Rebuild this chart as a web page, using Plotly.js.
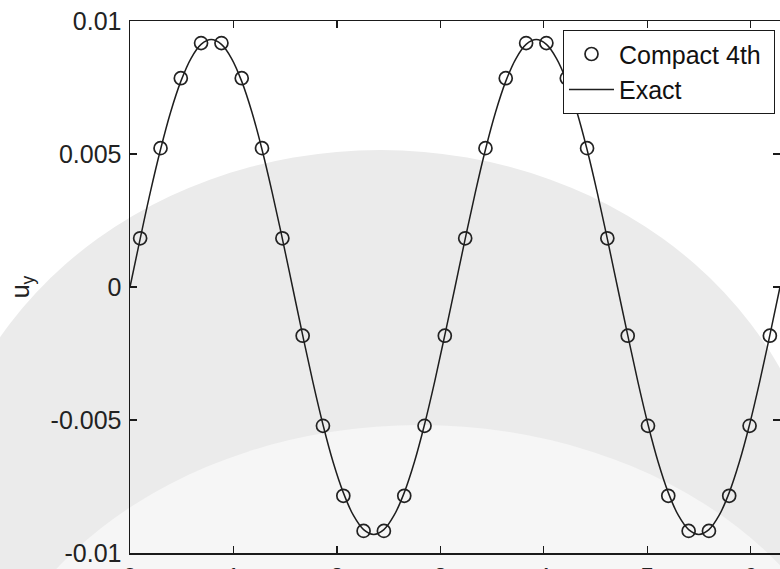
<!DOCTYPE html>
<html>
<head>
<meta charset="utf-8">
<script src="https://cdn.plot.ly/plotly-3.0.1.min.js"></script>
<style>html,body{margin:0;padding:0;background:#fff;}#chart{width:780px;height:569px;}</style>
</head>
<body>
<div id="chart"></div>
<script>
// Exact solution curve
const xExact = [0.000,0.098,0.196,0.295,0.393,0.491,0.589,0.687,0.785,0.884,0.982,1.080,1.178,1.276,1.374,1.473,
  1.571,1.669,1.767,1.865,1.963,2.062,2.160,2.258,2.356,2.454,2.552,2.651,2.749,2.847,2.945,3.043,
  3.142,3.240,3.338,3.436,3.534,3.632,3.731,3.829,3.927,4.025,4.123,4.222,4.320,4.418,4.516,4.614,
  4.712,4.811,4.909,5.007,5.105,5.203,5.301,5.400,5.498,5.596,5.694,5.792,5.890,5.989,6.087,6.185,6.283];
const yExact = [0,0.00181,0.00356,0.00517,0.00658,0.00773,0.00859,0.00912,0.00930,0.00912,0.00859,0.00773,0.00658,0.00517,0.00356,0.00181,
  0,-0.00181,-0.00356,-0.00517,-0.00658,-0.00773,-0.00859,-0.00912,-0.00930,-0.00912,-0.00859,-0.00773,-0.00658,-0.00517,-0.00356,-0.00181,
  0,0.00181,0.00356,0.00517,0.00658,0.00773,0.00859,0.00912,0.00930,0.00912,0.00859,0.00773,0.00658,0.00517,0.00356,0.00181,
  0,-0.00181,-0.00356,-0.00517,-0.00658,-0.00773,-0.00859,-0.00912,-0.00930,-0.00912,-0.00859,-0.00773,-0.00658,-0.00517,-0.00356,-0.00181,0];

// Compact 4th scheme samples
const xCompact = [0.098,0.295,0.491,0.687,0.884,1.080,1.276,1.473,1.669,1.865,2.062,2.258,2.454,2.651,2.847,3.043,
  3.240,3.436,3.632,3.829,4.025,4.222,4.418,4.614,4.811,5.007,5.203,5.400,5.596,5.792,5.989,6.185];
const yCompact = [0.00183,0.00522,0.00785,0.00917,0.00917,0.00785,0.00522,0.00183,-0.00183,-0.00522,-0.00785,-0.00917,-0.00917,-0.00785,-0.00522,-0.00183,
  0.00183,0.00522,0.00785,0.00917,0.00917,0.00785,0.00522,0.00183,-0.00183,-0.00522,-0.00785,-0.00917,-0.00917,-0.00785,-0.00522,-0.00183];

const yTickVals = [-0.01,-0.005,0,0.005,0.01];
const yTickText = ['-0.01','-0.005','0','0.005','0.01'];
const xTickVals = [0,1,2,3,4,5,6];

const FONT = 'Liberation Sans, Arial, sans-serif';

const traces = [
  {x: xCompact, y: yCompact, mode: 'markers', name: 'Compact 4th\u00a0',
   marker: {symbol: 'circle-open', size: 13, color: '#222', line: {width: 1.7, color: '#222'}}},
  {x: xExact, y: yExact, mode: 'lines', name: 'Exact',
   line: {color: '#1e1e1e', width: 1.5, shape: 'spline'}}
];

const axisCommon = {
  showline: true, linecolor: '#1a1a1a', linewidth: 1.5, mirror: 'ticks',
  ticks: 'inside', ticklen: 7, tickwidth: 1.2, tickcolor: '#1a1a1a',
  showgrid: false, zeroline: false,
  tickfont: {family: FONT, size: 25, color: '#222'}
};

const layout = {
  width: 780, height: 569,
  margin: {l: 130, r: 0, t: 21, b: 16},
  paper_bgcolor: '#ffffff', plot_bgcolor: 'rgba(0,0,0,0)',
  showlegend: true,
  xaxis: Object.assign({}, axisCommon, {range: [0, 6.283], tickvals: xTickVals, ticklabelstandoff: 1}),
  yaxis: Object.assign({}, axisCommon, {range: [-0.01, 0.01], tickvals: yTickVals, ticktext: yTickText,
    ticklabelstandoff: 2,
    title: {text: 'u<sub>y</sub>', font: {family: FONT, size: 25, color: '#222'}, standoff: 14}}),
  legend: {x: 0.992, xanchor: 'right', y: 0.983, yanchor: 'top',
    bgcolor: '#ffffff', bordercolor: '#1a1a1a', borderwidth: 1.2,
    font: {family: FONT, size: 25, color: '#111'}, itemwidth: 45, tracegroupgap: 0},
  shapes: [
    {type: 'circle', xref: 'paper', yref: 'paper', x0: -0.30, x1: 1.07, y0: -0.709, y1: 0.7575,
     fillcolor: '#ebebeb', line: {width: 0}, layer: 'below'},
    {type: 'circle', xref: 'paper', yref: 'paper', x0: -0.246, x1: 1.138, y0: -1.075, y1: 0.2406,
     fillcolor: '#f6f6f6', line: {width: 0}, layer: 'below'}
  ]
};

Plotly.newPlot('chart', traces, layout, {displayModeBar: false, staticPlot: true});
</script>
</body>
</html>
